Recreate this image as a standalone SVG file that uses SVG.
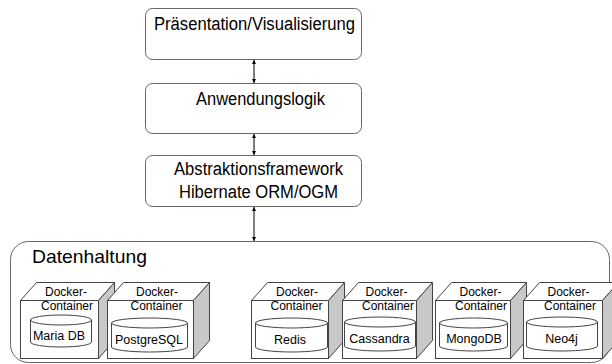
<svg xmlns="http://www.w3.org/2000/svg" width="612" height="364" viewBox="0 0 612 364">
<defs>
<marker id="ah" viewBox="0 0 8 8" refX="8" refY="4" markerWidth="4" markerHeight="4" orient="auto-start-reverse" markerUnits="userSpaceOnUse">
<path d="M0,0 L8,4 L0,8 z" fill="#000"/>
</marker>
</defs>
<style>
text{font-family:"Liberation Sans",Arial,Helvetica,sans-serif;fill:#000}
.box{fill:#fff;stroke:#666;stroke-width:1}
.big{font-size:18px}
.front{fill:#fff;stroke:#444;stroke-width:1}
.top{fill:#fff;stroke:#444;stroke-width:1}
.side{fill:#c8c8c8;stroke:#444;stroke-width:1}
.cyl{fill:#fff;stroke:#444;stroke-width:1}
.sm{font-size:12.5px;text-anchor:middle}
.dk{font-size:12px;text-anchor:middle}
.conn{stroke:#000;stroke-width:1;fill:none;marker-start:url(#ah);marker-end:url(#ah)}
</style>
<rect x="0" y="0" width="612" height="364" fill="#fff"/>

<g id="datenhaltung">
<rect class="box" x="10.5" y="241.5" width="599" height="121" rx="18"/>
<text x="32" y="263" style="font-size:19px" textLength="115" lengthAdjust="spacingAndGlyphs">Datenhaltung</text>
</g>

<g id="praesentation">
<rect class="box" x="145.5" y="8.5" width="216" height="51" rx="7"/>
<text class="big" x="154" y="30" textLength="201" lengthAdjust="spacingAndGlyphs">Präsentation/Visualisierung</text>
</g>

<g id="anwendungslogik">
<rect class="box" x="145.5" y="83.5" width="216" height="50" rx="7"/>
<text class="big" x="196" y="105" textLength="129" lengthAdjust="spacingAndGlyphs">Anwendungslogik</text>
</g>

<g id="abstraktion">
<rect class="box" x="145.5" y="155.5" width="216" height="51" rx="7"/>
<text class="big" x="174" y="175" textLength="169" lengthAdjust="spacingAndGlyphs">Abstraktionsframework</text>
<text class="big" x="179" y="198" textLength="159" lengthAdjust="spacingAndGlyphs">Hibernate ORM/OGM</text>
</g>

<g id="connectors">
<line class="conn" x1="254" y1="60" x2="254" y2="83"/>
<line class="conn" x1="254" y1="134" x2="254" y2="155"/>
<line class="conn" x1="254" y1="207" x2="254" y2="241"/>
</g>

<g id="c-mariadb">
<polygon class="top" points="20.5,300.5 36.5,282.5 114.5,282.5 98.5,300.5"/>
<polygon class="side" points="98.5,300.5 114.5,282.5 114.5,340.5 98.5,358.5"/>
<rect class="front" x="20.5" y="300.5" width="78" height="58"/>
<text class="dk" x="66" y="296">Docker-</text>
<text class="dk" x="67" y="310">Container</text>
<path class="cyl" d="M30.5,320 L30.5,342 A30.5,5 0 0 0 91.5,342 L91.5,320 A30.5,5 0 0 0 30.5,320 A30.5,5 0 0 0 91.5,320"/>
<text class="sm" x="59" y="340">Maria DB</text>
</g>

<g id="c-postgresql">
<polygon class="top" points="107.5,300.5 123.5,282.5 209.5,282.5 193.5,300.5"/>
<polygon class="side" points="193.5,300.5 209.5,282.5 209.5,340.5 193.5,358.5"/>
<rect class="front" x="107.5" y="300.5" width="86" height="58"/>
<text class="dk" x="157" y="296">Docker-</text>
<text class="dk" x="156.5" y="310">Container</text>
<path class="cyl" d="M111.5,323 L111.5,347 A38,5 0 0 0 187.5,347 L187.5,323 A38,5 0 0 0 111.5,323 A38,5 0 0 0 187.5,323"/>
<text class="sm" x="149" y="344">PostgreSQL</text>
</g>

<g id="c-redis">
<polygon class="top" points="251.5,300.5 267.5,282.5 344.5,282.5 328.5,300.5"/>
<polygon class="side" points="328.5,300.5 344.5,282.5 344.5,340.5 328.5,358.5"/>
<rect class="front" x="251.5" y="300.5" width="77" height="58"/>
<text class="dk" x="297" y="296">Docker-</text>
<text class="dk" x="296.5" y="310">Container</text>
<path class="cyl" d="M255.5,323 L255.5,347 A36,5 0 0 0 327.5,347 L327.5,323 A36,5 0 0 0 255.5,323 A36,5 0 0 0 327.5,323"/>
<text class="sm" x="290" y="344">Redis</text>
</g>

<g id="c-cassandra">
<polygon class="top" points="342.5,300.5 358.5,282.5 432.5,282.5 416.5,300.5"/>
<polygon class="side" points="416.5,300.5 432.5,282.5 432.5,340.5 416.5,358.5"/>
<rect class="front" x="342.5" y="300.5" width="74" height="58"/>
<text class="dk" x="386.5" y="296">Docker-</text>
<text class="dk" x="388" y="310">Container</text>
<path class="cyl" d="M344.5,322 L344.5,346 A35.5,5 0 0 0 415.5,346 L415.5,322 A35.5,5 0 0 0 344.5,322 A35.5,5 0 0 0 415.5,322"/>
<text class="sm" x="379.5" y="343">Cassandra</text>
</g>

<g id="c-mongodb">
<polygon class="top" points="435.5,300.5 451.5,282.5 526.5,282.5 510.5,300.5"/>
<polygon class="side" points="510.5,300.5 526.5,282.5 526.5,340.5 510.5,358.5"/>
<rect class="front" x="435.5" y="300.5" width="75" height="58"/>
<text class="dk" x="480.5" y="296">Docker-</text>
<text class="dk" x="481" y="310">Container</text>
<path class="cyl" d="M439.5,323 L439.5,346 A34,5 0 0 0 507.5,346 L507.5,323 A34,5 0 0 0 439.5,323 A34,5 0 0 0 507.5,323"/>
<text class="sm" x="474" y="343">MongoDB</text>
</g>

<g id="c-neo4j">
<polygon class="top" points="523.5,300.5 539.5,282.5 618.5,282.5 602.5,300.5"/>
<polygon class="side" points="602.5,300.5 618.5,282.5 618.5,340.5 602.5,358.5"/>
<rect class="front" x="523.5" y="300.5" width="79" height="58"/>
<text class="dk" x="568.5" y="296">Docker-</text>
<text class="dk" x="570" y="310">Container</text>
<path class="cyl" d="M526.5,322 L526.5,346 A35.5,5 0 0 0 597.5,346 L597.5,322 A35.5,5 0 0 0 526.5,322 A35.5,5 0 0 0 597.5,322"/>
<text class="sm" x="561.5" y="343">Neo4j</text>
</g>
</svg>
